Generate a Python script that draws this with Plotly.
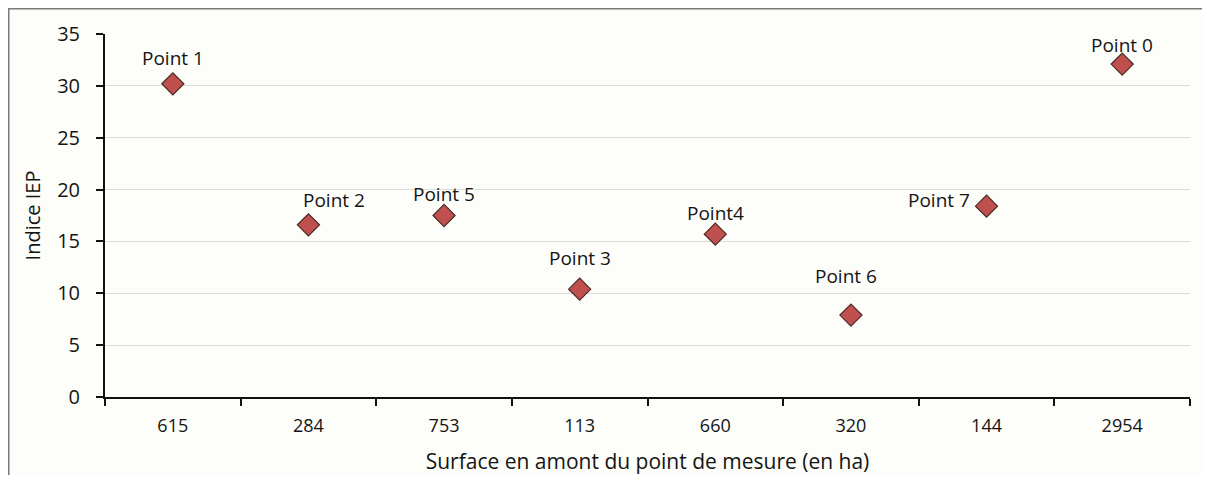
import plotly.graph_objects as go

# Surface upstream of each measuring point (ha), used as category labels
surfaces = ["615", "284", "753", "113", "660", "320", "144", "2954"]
iep_values = [30.2, 16.6, 17.5, 10.4, 15.7, 7.9, 18.4, 32.1]
point_names = ["Point 1", "Point 2", "Point 5", "Point 3", "Point4", "Point 6", "Point 7", "Point 0"]

# label offsets (px) relative to each marker
label_shift = [(0, 26), (26, 25), (0, 22), (0, 31), (0, 21), (-5, 39), (-48, 6), (0, 19)]

# page body has an 8px margin, so keep the figure inside the window
W, H = 1194, 467
L, R, T, B = 97, 12, 26, 78
FONT = "Open Sans"
bg = "#fdfdf9"
txt = "#141414"

fig = go.Figure()

fig.add_trace(go.Scatter(
    x=surfaces,
    y=iep_values,
    mode="markers",
    marker=dict(symbol="diamond", size=17, color="#c0504d",
                line=dict(color="#4a2a28", width=1.2)),
    hoverinfo="x+y",
    showlegend=False
))

for i, (yv, name, (dx, dy)) in enumerate(zip(iep_values, point_names, label_shift)):
    fig.add_annotation(
        x=i, y=yv, text=name, showarrow=False,
        xshift=dx, yshift=dy,
        font=dict(family=FONT, size=19, color=txt)
    )

# frame lines (top and left) at the edge of the figure
pw, ph = W - L - R, H - T - B
frame = dict(color="#7a7a7a", width=3)
fig.add_shape(type="line", xref="paper", yref="paper",
              x0=-L / pw, x1=1 + R / pw,
              y0=1 + T / ph, y1=1 + T / ph, line=frame)
fig.add_shape(type="line", xref="paper", yref="paper",
              x0=-L / pw, x1=-L / pw,
              y0=1 + T / ph, y1=-B / ph, line=frame)

fig.update_layout(
    width=W, height=H,
    margin=dict(l=L, r=R, t=T, b=B),
    paper_bgcolor=bg,
    plot_bgcolor=bg,
    font=dict(family=FONT, size=18, color=txt),
    xaxis=dict(
        type="category",
        range=[-0.5, len(surfaces) - 0.5],
        tickson="boundaries",
        ticks="outside", ticklen=7, tickwidth=2, tickcolor="#111111",
        showline=True, linecolor="#111111", linewidth=2,
        showgrid=False, zeroline=False,
        automargin=False,
        tickfont=dict(size=18, color=txt),
        ticklabelstandoff=11,
        title=dict(text="Surface en amont du point de mesure (en ha)",
                   font=dict(size=21, color=txt), standoff=20),
    ),
    yaxis=dict(
        range=[0, 35],
        tickvals=[0, 5, 10, 15, 20, 25, 30, 35],
        ticks="outside", ticklen=7, tickwidth=2, tickcolor="#111111",
        showline=True, linecolor="#111111", linewidth=2,
        showgrid=True, gridcolor="#dcdcdc", gridwidth=1,
        zeroline=False,
        automargin=False,
        tickfont=dict(size=20, color=txt),
        ticklabelstandoff=12,
        title=dict(text="Indice IEP", font=dict(size=20, color=txt), standoff=11),
    ),
)

fig.write_html("out.html")
